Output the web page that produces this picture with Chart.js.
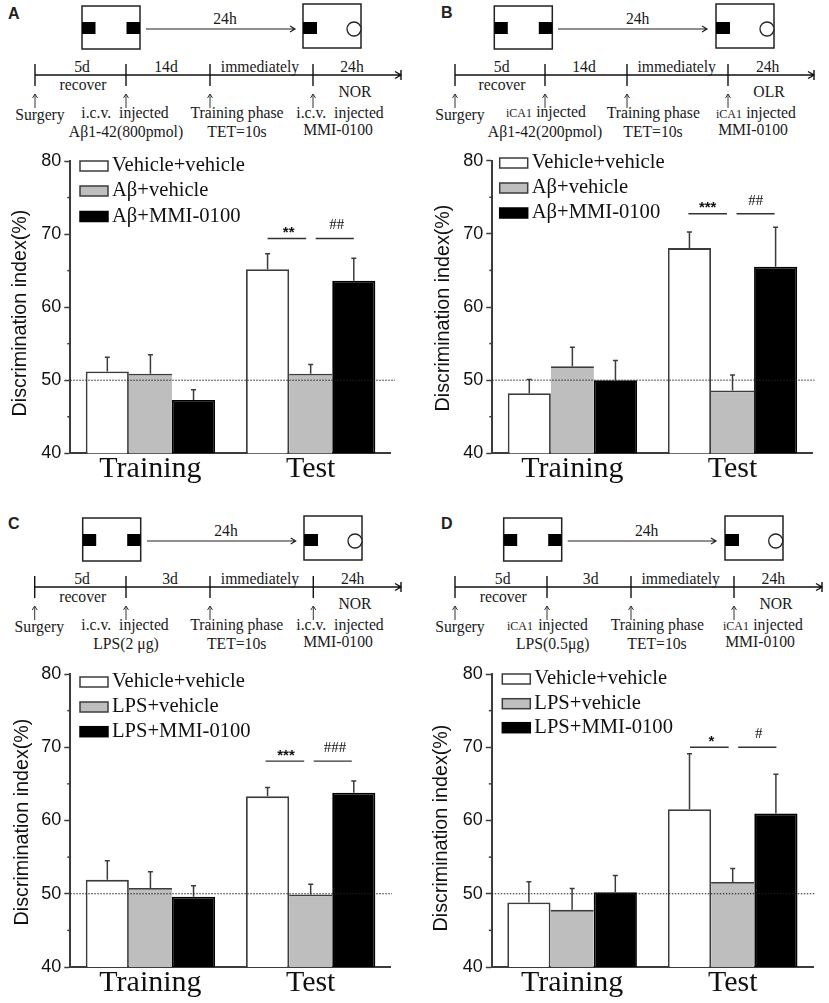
<!DOCTYPE html>
<html>
<head>
<meta charset="utf-8">
<title>Discrimination index</title>
<script src="https://cdn.jsdelivr.net/npm/chart.js@4/dist/chart.umd.min.js"></script>
<style>
  html, body { margin: 0; padding: 0; background: #fff; }
  #page { position: relative; width: 829px; height: 1003px; overflow: hidden; }
  #page canvas { position: absolute; }
  #schemes { position: absolute; left: 0; top: 0; }
  #schemes text { font-family: 'Liberation Serif', serif; font-size: 15.7px; fill: #1a1a1a; text-anchor: middle; white-space: pre; }
  #schemes text.letter { font-family: 'Liberation Sans', sans-serif; font-size: 16px; font-weight: bold; fill: #222; text-anchor: start; }
</style>
</head>
<body>
<div id="page">
  <svg id="schemes" width="829" height="1003" xmlns="http://www.w3.org/2000/svg"></svg>
  <canvas id="chartA"></canvas>
  <canvas id="chartB"></canvas>
  <canvas id="chartC"></canvas>
  <canvas id="chartD"></canvas>
</div>
<script>
// data
const categories = ['Training', 'Test'];
const yTicks = [40, 50, 60, 70, 80];
const yMinorTicks = [45, 55, 65, 75];
const chanceLevel = 50;

const vehicleA = [51.2, 65.2], vehicleErrA = [1.95, 2.1];
const abetaA = [50.9, 50.9], abetaErrA = [2.6, 1.25];
const mmiA = [47.3, 63.6], mmiErrA = [1.4, 3.1];
const sigA = ['**', '##'], sigLevelA = 69.4;

const vehicleB = [48.2, 68.05], vehicleErrB = [1.9, 2.2];
const abetaB = [51.9, 48.6], abetaErrB = [2.6, 2.1];
const mmiB = [50.0, 65.5], mmiErrB = [2.7, 5.4];
const sigB = ['***', '##'], sigLevelB = 72.75;

const vehicleC = [51.9, 63.3], vehicleErrC = [2.6, 1.2];
const lpsC = [50.8, 49.9], lpsErrC = [2.2, 1.4];
const mmiC = [49.6, 63.8], mmiErrC = [1.5, 1.6];
const sigC = ['***', '###'], sigLevelC = 68.1;

const vehicleD = [48.8, 61.55], vehicleErrD = [2.85, 7.55];
const lpsD = [47.8, 51.6], lpsErrD = [2.9, 1.85];
const mmiD = [50.2, 60.95], mmiErrD = [2.3, 5.35];
const sigD = ['*', '#'], sigLevelD = 70.0;

const labelsAbeta = ['Vehicle+vehicle', 'Aβ+vehicle', 'Aβ+MMI-0100'];
const labelsLps = ['Vehicle+vehicle', 'LPS+vehicle', 'LPS+MMI-0100'];

const SERIF = "'Liberation Serif', serif";
const SANS = "'Liberation Sans', sans-serif";
const INK = '#111';
const EDGE = '#3c3c3c';
const barFills = ['#ffffff', '#bebebe', '#000000'];
const barEdges = [EDGE, EDGE, '#000000'];
const barWidths = [1.8, { top: 1.8, left: 0, right: 0, bottom: 0 }, 1.8];

// panel geometry, pixels on the page
const panels = [
    { id: 'chartA', left: 0, top: 140, width: 415, height: 355, plot: [70.3, 161, 390.8, 453.3],
      values: [vehicleA, abetaA, mmiA], errors: [vehicleErrA, abetaErrA, mmiErrA], labels: labelsAbeta,
      sig: sigA, sigLevel: sigLevelA, sigDx: 0, sigText: [288.7, 336.7], legend: [80, 166, 191, 216.5], title: [21, 313], dotEnd: 395 },
    { id: 'chartB', left: 415, top: 140, width: 414, height: 355, plot: [492.3, 160.7, 812.6, 453.3],
      values: [vehicleB, abetaB, mmiB], errors: [vehicleErrB, abetaErrB, mmiErrB], labels: labelsAbeta,
      sig: sigB, sigLevel: sigLevelB, sigDx: -1, sigText: [707.7, 755.7], legend: [499.7, 163, 188, 213], title: [444, 308], dotEnd: 814.5 },
    { id: 'chartC', left: 0, top: 652, width: 415, height: 351, plot: [70.3, 674, 390.8, 967],
      values: [vehicleC, lpsC, mmiC], errors: [vehicleErrC, lpsErrC, mmiErrC], labels: labelsLps,
      sig: sigC, sigLevel: sigLevelC, sigDx: -2, sigText: [286, 335], legend: [80, 682, 707, 731.7], title: [22.3, 822], dotEnd: 392 },
    { id: 'chartD', left: 415, top: 652, width: 414, height: 351, plot: [491.8, 674, 813, 967],
      values: [vehicleD, lpsD, mmiD], errors: [vehicleErrD, lpsErrD, mmiErrD], labels: labelsLps,
      sig: sigD, sigLevel: sigLevelD, sigDx: 0.5, sigText: [711.3, 758.7], legend: [502.3, 679, 703.7, 727.7], title: [441.7, 828], dotEnd: 815 }
];

// everything the bars need but the library has no option for
const panelMarks = {
    id: 'panelMarks',
    afterDatasetsDraw(chart, args, opts) {
        const p = opts.panel;
        const ctx = chart.ctx;
        const y = chart.scales.y;
        const area = chart.chartArea;
        const ox = p.left, oy = p.top;
        ctx.save();

        // minor ticks
        ctx.strokeStyle = EDGE;
        ctx.lineWidth = 1.5;
        yMinorTicks.forEach(v => {
            const py = y.getPixelForValue(v);
            ctx.beginPath();
            ctx.moveTo(area.left - 3, py);
            ctx.lineTo(area.left, py);
            ctx.stroke();
        });

        // error bars, upper half only
        p.errors.forEach((errs, i) => {
            const bars = chart.getDatasetMeta(i).data;
            errs.forEach((e, j) => {
                const x = bars[j].x;
                const top = y.getPixelForValue(p.values[i][j] + e);
                const base = y.getPixelForValue(p.values[i][j]);
                ctx.beginPath();
                ctx.moveTo(x, base);
                ctx.lineTo(x, top);
                ctx.moveTo(x - 2.5, top);
                ctx.lineTo(x + 2.5, top);
                ctx.stroke();
            });
        });

        // dotted line at chance level
        const dotY = y.getPixelForValue(chanceLevel);
        ctx.strokeStyle = '#222';
        ctx.lineWidth = 1;
        ctx.setLineDash([1.5, 1.5]);
        ctx.beginPath();
        ctx.moveTo(area.left, dotY);
        ctx.lineTo(p.dotEnd - ox, dotY);
        ctx.stroke();
        ctx.setLineDash([]);

        // significance bars over the Test group
        const c0 = chart.getDatasetMeta(0).data[1].x;
        const c1 = chart.getDatasetMeta(1).data[1].x;
        const c2 = chart.getDatasetMeta(2).data[1].x;
        const sigY = y.getPixelForValue(p.sigLevel);
        ctx.strokeStyle = '#333';
        ctx.lineWidth = 1.4;
        [[c0, c1 - 4.5], [c1 + 5, c2]].forEach(seg => {
            ctx.beginPath();
            ctx.moveTo(seg[0] + p.sigDx, sigY);
            ctx.lineTo(seg[1] + p.sigDx, sigY);
            ctx.stroke();
        });
        ctx.fillStyle = INK;
        ctx.textAlign = 'center';
        ctx.textBaseline = 'alphabetic';
        ctx.font = 'bold 15px ' + SANS;
        ctx.fillText(p.sig[0], p.sigText[0] - ox, sigY - 1.5);
        ctx.font = '15px ' + SERIF;
        ctx.fillText(p.sig[1], p.sigText[1] - ox, sigY - 9);

        // legend
        ctx.textAlign = 'left';
        ctx.textBaseline = 'middle';
        ctx.font = '20.6px ' + SERIF;
        chart.data.datasets.forEach((ds, i) => {
            const ly = p.legend[i + 1] - oy;
            const lx = p.legend[0] - ox;
            ctx.fillStyle = ds.backgroundColor;
            ctx.fillRect(lx, ly - 5, 28, 10);
            ctx.strokeStyle = ds.borderColor;
            ctx.lineWidth = 1.5;
            ctx.strokeRect(lx, ly - 5, 28, 10);
            ctx.fillStyle = INK;
            ctx.fillText(ds.label, lx + 32, ly);
        });

        // y axis title
        ctx.translate(p.title[0] - ox, p.title[1] - oy);
        ctx.rotate(-Math.PI / 2);
        ctx.textAlign = 'center';
        ctx.font = '19.7px ' + SANS;
        ctx.fillText('Discrimination index(%)', 0, 0);
        ctx.restore();
    }
};

panels.forEach(p => {
    const canvas = document.getElementById(p.id);
    canvas.style.left = p.left + 'px';
    canvas.style.top = p.top + 'px';
    canvas.width = p.width;
    canvas.height = p.height;

    new Chart(canvas.getContext('2d'), {
        type: 'bar',
        data: {
            labels: categories,
            datasets: p.labels.map((label, i) => ({
                label: label,
                data: p.values[i],
                backgroundColor: barFills[i],
                borderColor: barEdges[i],
                borderWidth: barWidths[i],
                borderSkipped: false,
                categoryPercentage: 0.807,
                barPercentage: 1
            }))
        },
        plugins: [panelMarks],
        options: {
            responsive: false,
            animation: false,
            devicePixelRatio: 1,
            layout: { padding: { top: p.plot[1] - p.top, right: p.left + p.width - p.plot[2], left: 0, bottom: 0 } },
            scales: {
                x: {
                    grid: { display: false, drawTicks: false, tickLength: 0 },
                    border: { color: EDGE, width: 2 },
                    ticks: { color: INK, font: { family: SERIF, size: 30 }, padding: -2, maxRotation: 0 },
                    afterFit: s => { s.height = p.top + p.height - p.plot[3]; }
                },
                y: {
                    min: yTicks[0],
                    max: yTicks[yTicks.length - 1],
                    grid: { drawOnChartArea: false, drawTicks: true, tickLength: 6, tickWidth: 1.5, tickColor: EDGE },
                    border: { color: EDGE, width: 2 },
                    ticks: { stepSize: 10, color: INK, font: { family: SANS, size: 18 }, padding: 3 },
                    afterFit: s => { s.width = p.plot[0] - p.left; }
                }
            },
            plugins: {
                legend: { display: false },
                tooltip: { enabled: false },
                panelMarks: { panel: p }
            }
        }
    });
});

// the protocol sketches above each chart
const schemes = [
    { letter: ['A', 8, 18.5], dy: 0, box1: 82, arrow: [146, 295], box2: 303, circle: 354, line: [35, 401], ticks: [35, 126, 210, 313],
      texts: [['24h', 225, 24], ['5d', 82, 72], ['14d', 166, 72], ['immediately', 260, 72], ['24h', 352, 72], ['recover', 83, 90], ['NOR', 355, 97],
              ['Surgery', 40, 120], ['i.c.v.  injected', 125, 118], ['Aβ1-42(800pmol)', 126, 137], ['Training phase', 237, 118], ['TET=10s', 237, 137], ['i.c.v.  injected', 340, 118], ['MMI-0100', 338, 135]] },
    { letter: ['B', 441, 17.5], dy: 0, box1: 494.3, arrow: [558, 707], box2: 716, circle: 767, line: [455, 814], ticks: [455, 545, 627, 728],
      texts: [['24h', 637.7, 24], ['5d', 501.7, 72], ['14d', 584, 72], ['immediately', 676.7, 72], ['24h', 767.7, 72], ['recover', 502, 90], ['OLR', 769, 97],
              ['Surgery', 460, 120], ['iCA1', 519, 117, 12], ['injected', 561, 117], ['Aβ1-42(200pmol)', 545, 137], ['Training phase', 653.3, 118], ['TET=10s', 653, 137], ['iCA1', 729, 118, 12], ['injected', 771, 118], ['MMI-0100', 753, 135]] },
    { letter: ['C', 8, 529], dy: 512, box1: 82.7, arrow: [147, 295.7], box2: 304, circle: 355, line: [34.7, 401], ticks: [34.7, 126, 210, 313.3],
      texts: [['24h', 226, 24], ['5d', 82, 72], ['3d', 170, 72], ['immediately', 260, 72], ['24h', 352.7, 72], ['recover', 82.7, 90], ['NOR', 355, 97],
              ['Surgery', 39.3, 120], ['i.c.v.  injected', 125, 118], ['LPS(2 μg)', 126, 137], ['Training phase', 236.7, 118], ['TET=10s', 236.7, 137], ['i.c.v.  injected', 340, 118], ['MMI-0100', 338, 135]] },
    { letter: ['D', 441, 529], dy: 512, box1: 503.7, arrow: [567.7, 716], box2: 725, circle: 775.7, line: [455, 822], ticks: [455, 547, 631, 734],
      texts: [['24h', 646.7, 24], ['5d', 502.7, 72], ['3d', 590.7, 72], ['immediately', 680.7, 72], ['24h', 773.3, 72], ['recover', 503.3, 90], ['NOR', 776, 97],
              ['Surgery', 460, 120], ['iCA1', 520, 118, 12], ['injected', 563, 118], ['LPS(0.5μg)', 552.7, 137], ['Training phase', 657.3, 118], ['TET=10s', 657, 137], ['iCA1', 736, 118, 12], ['injected', 778, 118], ['MMI-0100', 760, 135]] }
];

function upArrow(x, y0) {
    return `<path d="M${x} ${y0 + 14}V${y0}M${x - 2.5} ${y0 + 4}L${x} ${y0}L${x + 2.5} ${y0 + 4}" fill="none" stroke="#333" stroke-width="1"/>`;
}

const svg = document.getElementById('schemes');
let markup = '';
schemes.forEach(s => {
    const d = s.dy;
    markup += `<text class="letter" x="${s.letter[1]}" y="${s.letter[2]}">${s.letter[0]}</text>`;
    // boxes
    markup += `<rect x="${s.box1}" y="${6 + d}" width="58" height="43" fill="#fff" stroke="#222" stroke-width="1.5"/>`;
    markup += `<rect x="${s.box1}" y="${22 + d}" width="13.5" height="12" fill="#000"/>`;
    markup += `<rect x="${s.box1 + 44.5}" y="${22 + d}" width="13.5" height="12" fill="#000"/>`;
    markup += `<rect x="${s.box2}" y="${4 + d}" width="58" height="44" fill="#fff" stroke="#222" stroke-width="1.5"/>`;
    markup += `<rect x="${s.box2}" y="${22 + d}" width="14" height="12" fill="#000"/>`;
    markup += `<circle cx="${s.circle}" cy="${29 + d}" r="7" fill="#fff" stroke="#222" stroke-width="1.3"/>`;
    // 24h arrow
    markup += `<path d="M${s.arrow[0]} ${29 + d}H${s.arrow[1]}M${s.arrow[1] - 5} ${26 + d}L${s.arrow[1]} ${29 + d}L${s.arrow[1] - 5} ${32 + d}" fill="none" stroke="#222" stroke-width="1.2"/>`;
    // timeline
    markup += `<path d="M${s.line[0]} ${75 + d}H${s.line[1]}M${s.line[1] - 6} ${71.5 + d}L${s.line[1]} ${75 + d}L${s.line[1] - 6} ${78.5 + d}M${s.line[1]} ${70 + d}V${80 + d}" fill="none" stroke="#111" stroke-width="1.4"/>`;
    s.ticks.forEach(x => {
        markup += `<path d="M${x} ${64 + d}V${86 + d}" stroke="#111" stroke-width="1.4"/>`;
        markup += upArrow(x, 94 + d);
    });
    s.texts.forEach(t => {
        const size = t[3] ? ` style="font-size:${t[3]}px"` : '';
        markup += `<text x="${t[1]}" y="${t[2] + d}"${size}>${t[0]}</text>`;
    });
});
svg.innerHTML = markup;
</script>
</body>
</html>
